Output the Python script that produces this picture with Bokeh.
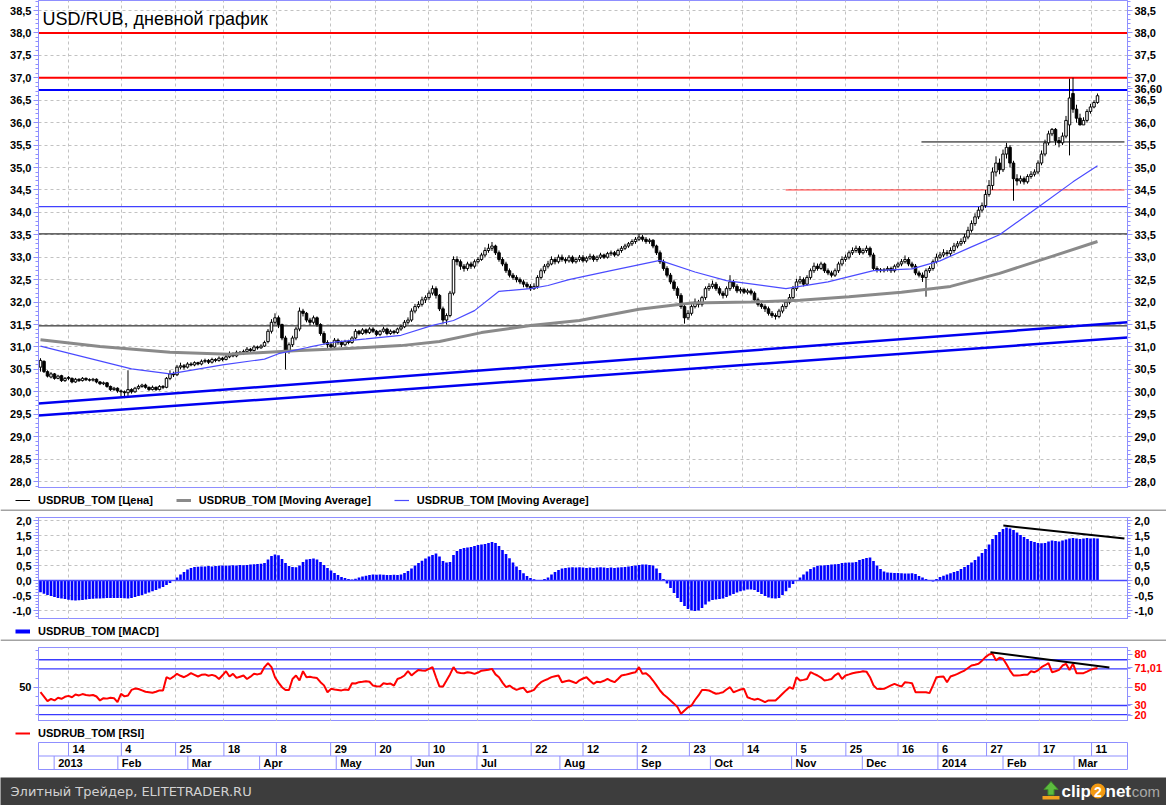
import numpy as np
from bokeh.plotting import figure
from bokeh.models import (Range1d, LinearAxis, FixedTicker, Grid, Span, Label,
                          Legend, LegendItem, ColumnDataSource, Spacer)
from bokeh.layouts import column
from bokeh.embed import file_html
from bokeh.resources import INLINE
from bokeh.core.properties import value

# ---------------- data ----------------
open_ = [
 30.55, 30.68, 30.45, 30.33, 30.40, 30.30, 30.36, 30.25, 30.32, 30.30,
 30.22, 30.28, 30.25, 30.30, 30.27, 30.26, 30.28, 30.22, 30.18, 30.20,
 30.12, 30.05, 30.08, 30.02, 30.00, 29.98, 30.05, 30.00, 30.08, 30.12,
 30.15, 30.10, 30.05, 30.10, 30.05, 30.12, 30.10, 30.30, 30.40, 30.38,
 30.55, 30.58, 30.55, 30.62, 30.60, 30.65, 30.62, 30.68, 30.70, 30.66,
 30.72, 30.70, 30.75, 30.72, 30.78, 30.85, 30.80, 30.88, 30.85, 30.90,
 30.95, 30.92, 31.00, 30.98, 31.02, 31.12, 31.35, 31.55, 31.65, 31.50,
 31.20, 30.90, 31.05, 31.20, 31.40, 31.80, 31.75, 31.60, 31.55, 31.65,
 31.50, 31.30, 31.10, 31.05, 31.00, 31.15, 31.10, 31.05, 31.12, 31.10,
 31.20, 31.35, 31.30, 31.38, 31.32, 31.40, 31.35, 31.28, 31.35, 31.40,
 31.30, 31.35, 31.32, 31.40, 31.45, 31.55, 31.60, 31.80, 31.90, 31.95,
 32.05, 32.10, 32.20, 32.30, 32.15, 31.85, 31.60, 31.70, 32.20, 32.95,
 32.90, 32.80, 32.75, 32.85, 32.80, 32.90, 32.95, 33.05, 33.15, 33.20,
 33.25, 33.10, 32.95, 32.85, 32.70, 32.60, 32.55, 32.50, 32.45, 32.40,
 32.35, 32.30, 32.35, 32.55, 32.70, 32.80, 32.85, 32.95, 32.90, 33.00,
 32.95, 32.92, 33.00, 32.90, 32.95, 33.00, 32.92, 32.98, 33.02, 32.95,
 33.00, 33.05, 33.00, 33.08, 33.10, 33.05, 33.15, 33.20, 33.25, 33.30,
 33.35, 33.40, 33.45, 33.40, 33.35, 33.38, 33.25, 33.10, 32.90, 32.75,
 32.60, 32.45, 32.30, 32.15, 31.90, 31.65, 31.75, 31.90, 32.00, 31.95,
 32.10, 32.30, 32.35, 32.40, 32.30, 32.20, 32.15, 32.30, 32.45, 32.35,
 32.25, 32.28, 32.22, 32.25, 32.20, 32.05, 31.95, 31.90, 31.85, 31.75,
 31.70, 31.68, 31.80, 31.90, 32.00, 32.10, 32.30, 32.45, 32.50, 32.40,
 32.55, 32.70, 32.80, 32.75, 32.85, 32.70, 32.65, 32.60, 32.70, 32.85,
 32.95, 33.00, 33.10, 33.15, 33.20, 33.10, 33.15, 33.20, 33.05, 32.75,
 32.72, 32.70, 32.72, 32.75, 32.70, 32.80, 32.85, 32.90, 32.95, 32.85,
 32.80, 32.65, 32.60, 32.55, 32.70, 32.75, 32.90, 33.00, 33.05, 33.10,
 33.08, 33.15, 33.25, 33.30, 33.35, 33.45, 33.60, 33.75, 33.90, 34.05,
 34.15, 34.40, 34.60, 34.90, 35.10, 34.95, 35.30, 35.45, 35.10, 34.75,
 34.70, 34.75, 34.68, 34.80, 34.85, 34.90, 35.10, 35.30, 35.55, 35.75,
 35.85, 35.60, 35.55, 35.70, 35.95, 36.65, 36.30, 36.10, 35.95, 36.05,
 36.25, 36.35, 36.45]
close = [
 30.70, 30.45, 30.35, 30.40, 30.30, 30.35, 30.25, 30.30, 30.30, 30.22,
 30.28, 30.25, 30.30, 30.27, 30.26, 30.28, 30.22, 30.18, 30.20, 30.12,
 30.05, 30.08, 30.02, 30.00, 29.98, 30.05, 30.00, 30.08, 30.12, 30.15,
 30.10, 30.05, 30.10, 30.05, 30.12, 30.10, 30.30, 30.40, 30.38, 30.55,
 30.58, 30.55, 30.62, 30.60, 30.65, 30.62, 30.68, 30.70, 30.66, 30.72,
 30.70, 30.75, 30.72, 30.78, 30.85, 30.80, 30.88, 30.85, 30.90, 30.95,
 30.92, 31.00, 30.98, 31.02, 31.10, 31.35, 31.55, 31.65, 31.50, 31.20,
 30.90, 31.05, 31.20, 31.40, 31.80, 31.75, 31.60, 31.55, 31.65, 31.50,
 31.30, 31.10, 31.05, 31.00, 31.15, 31.10, 31.05, 31.12, 31.10, 31.20,
 31.35, 31.30, 31.38, 31.32, 31.40, 31.35, 31.28, 31.35, 31.40, 31.30,
 31.35, 31.32, 31.40, 31.45, 31.55, 31.60, 31.80, 31.90, 31.95, 32.05,
 32.10, 32.20, 32.30, 32.15, 31.85, 31.60, 31.70, 32.20, 32.95, 32.90,
 32.80, 32.75, 32.85, 32.80, 32.90, 32.95, 33.05, 33.15, 33.20, 33.25,
 33.10, 32.95, 32.85, 32.70, 32.60, 32.55, 32.50, 32.45, 32.40, 32.35,
 32.30, 32.35, 32.55, 32.70, 32.80, 32.85, 32.95, 32.90, 33.00, 32.95,
 32.92, 33.00, 32.90, 32.95, 33.00, 32.92, 32.98, 33.02, 32.95, 33.00,
 33.05, 33.00, 33.08, 33.10, 33.05, 33.15, 33.20, 33.25, 33.30, 33.35,
 33.40, 33.45, 33.40, 33.35, 33.38, 33.25, 33.10, 32.90, 32.75, 32.60,
 32.45, 32.30, 32.15, 31.90, 31.65, 31.75, 31.90, 32.00, 31.95, 32.10,
 32.30, 32.35, 32.40, 32.30, 32.20, 32.15, 32.30, 32.45, 32.35, 32.25,
 32.28, 32.22, 32.25, 32.20, 32.05, 31.95, 31.90, 31.85, 31.75, 31.70,
 31.68, 31.80, 31.90, 32.00, 32.10, 32.30, 32.45, 32.50, 32.40, 32.55,
 32.70, 32.80, 32.75, 32.85, 32.70, 32.65, 32.60, 32.70, 32.85, 32.95,
 33.00, 33.10, 33.15, 33.20, 33.10, 33.15, 33.20, 33.05, 32.75, 32.72,
 32.70, 32.72, 32.75, 32.70, 32.80, 32.85, 32.90, 32.95, 32.85, 32.80,
 32.65, 32.60, 32.55, 32.70, 32.75, 32.90, 33.00, 33.05, 33.10, 33.08,
 33.15, 33.25, 33.30, 33.35, 33.45, 33.60, 33.75, 33.90, 34.05, 34.15,
 34.40, 34.60, 34.90, 35.10, 34.95, 35.30, 35.45, 35.10, 34.75, 34.70,
 34.75, 34.68, 34.80, 34.85, 34.90, 35.10, 35.30, 35.55, 35.75, 35.85,
 35.60, 35.55, 35.70, 36.05, 36.55, 36.30, 36.10, 35.95, 36.05, 36.25,
 36.35, 36.45, 36.60]
high = [
 30.75, 30.70, 30.48, 30.44, 30.42, 30.38, 30.38, 30.33, 30.35, 30.32,
 30.31, 30.30, 30.33, 30.32, 30.30, 30.31, 30.30, 30.24, 30.23, 30.22,
 30.14, 30.11, 30.10, 30.05, 30.03, 30.48, 30.08, 30.11, 30.16, 30.18,
 30.18, 30.12, 30.14, 30.12, 30.15, 30.15, 30.33, 30.48, 30.45, 30.60,
 30.65, 30.62, 30.66, 30.66, 30.68, 30.67, 30.72, 30.74, 30.73, 30.76,
 30.75, 30.79, 30.78, 30.82, 30.90, 30.88, 30.92, 30.91, 30.94, 31.00,
 30.98, 31.04, 31.03, 31.06, 31.14, 31.40, 31.62, 31.75, 31.70, 31.52,
 31.25, 31.10, 31.25, 31.45, 31.88, 31.85, 31.78, 31.65, 31.70, 31.68,
 31.53, 31.35, 31.15, 31.10, 31.20, 31.19, 31.14, 31.16, 31.16, 31.24,
 31.40, 31.38, 31.42, 31.41, 31.44, 31.44, 31.38, 31.38, 31.45, 31.43,
 31.39, 31.38, 31.43, 31.50, 31.60, 31.66, 31.86, 31.96, 32.02, 32.12,
 32.15, 32.26, 32.37, 32.35, 32.18, 31.90, 31.75, 32.25, 33.02, 33.02,
 32.95, 32.85, 32.90, 32.90, 32.95, 33.00, 33.10, 33.22, 33.30, 33.34,
 33.28, 33.15, 33.00, 32.90, 32.75, 32.65, 32.60, 32.55, 32.50, 32.45,
 32.40, 32.42, 32.60, 32.75, 32.85, 32.92, 33.02, 33.00, 33.06, 33.06,
 33.00, 33.05, 33.04, 33.00, 33.05, 33.05, 33.02, 33.08, 33.06, 33.04,
 33.10, 33.08, 33.12, 33.15, 33.14, 33.19, 33.25, 33.30, 33.34, 33.40,
 33.45, 33.52, 33.50, 33.45, 33.42, 33.40, 33.28, 33.15, 32.95, 32.80,
 32.65, 32.50, 32.35, 32.20, 31.95, 31.82, 31.95, 32.08, 32.05, 32.14,
 32.35, 32.42, 32.48, 32.45, 32.35, 32.25, 32.35, 32.60, 32.50, 32.40,
 32.33, 32.32, 32.30, 32.30, 32.24, 32.10, 32.00, 31.95, 31.90, 31.80,
 31.75, 31.85, 31.95, 32.05, 32.18, 32.36, 32.52, 32.58, 32.55, 32.60,
 32.75, 32.88, 32.86, 32.90, 32.88, 32.75, 32.70, 32.75, 32.90, 33.02,
 33.06, 33.15, 33.22, 33.26, 33.25, 33.20, 33.26, 33.24, 33.10, 32.80,
 32.76, 32.76, 32.80, 32.79, 32.84, 32.90, 32.96, 33.04, 33.00, 32.90,
 32.85, 32.70, 32.66, 32.75, 32.80, 32.95, 33.08, 33.12, 33.18, 33.16,
 33.22, 33.32, 33.36, 33.42, 33.52, 33.68, 33.82, 33.98, 34.12, 34.22,
 34.50, 34.72, 35.00, 35.25, 35.20, 35.40, 35.55, 35.50, 35.15, 34.85,
 34.82, 34.80, 34.85, 34.92, 34.96, 35.16, 35.38, 35.62, 35.82, 35.88,
 35.88, 35.68, 35.78, 36.15, 36.98, 37.00, 36.40, 36.20, 36.12, 36.30,
 36.42, 36.50, 36.65]
low = [
 30.45, 30.42, 30.32, 30.30, 30.27, 30.28, 30.22, 30.22, 30.26, 30.19,
 30.20, 30.22, 30.23, 30.24, 30.23, 30.23, 30.19, 30.15, 30.15, 30.09,
 30.02, 30.02, 29.98, 29.90, 29.86, 29.88, 29.96, 29.98, 30.05, 30.09,
 30.07, 30.02, 30.03, 30.02, 30.03, 30.06, 30.08, 30.26, 30.33, 30.35,
 30.50, 30.50, 30.52, 30.57, 30.57, 30.59, 30.59, 30.64, 30.62, 30.63,
 30.66, 30.67, 30.68, 30.70, 30.75, 30.77, 30.77, 30.82, 30.82, 30.87,
 30.88, 30.90, 30.94, 30.96, 31.00, 31.08, 31.30, 31.50, 31.42, 31.15,
 30.50, 30.85, 31.00, 31.15, 31.35, 31.68, 31.55, 31.48, 31.50, 31.45,
 31.25, 31.05, 30.98, 30.95, 30.97, 31.05, 31.00, 31.02, 31.06, 31.07,
 31.17, 31.26, 31.27, 31.28, 31.29, 31.31, 31.24, 31.24, 31.32, 31.26,
 31.27, 31.28, 31.29, 31.36, 31.42, 31.50, 31.56, 31.75, 31.86, 31.90,
 31.98, 32.05, 32.15, 32.08, 31.80, 31.52, 31.50, 31.66, 32.15, 32.82,
 32.72, 32.68, 32.70, 32.74, 32.75, 32.86, 32.92, 33.00, 33.10, 33.14,
 33.05, 32.90, 32.80, 32.65, 32.55, 32.50, 32.44, 32.40, 32.33, 32.30,
 32.25, 32.27, 32.30, 32.50, 32.64, 32.75, 32.82, 32.84, 32.86, 32.90,
 32.86, 32.88, 32.86, 32.86, 32.90, 32.88, 32.88, 32.94, 32.90, 32.90,
 32.96, 32.96, 32.97, 33.03, 33.01, 33.02, 33.10, 33.16, 33.21, 33.25,
 33.30, 33.36, 33.35, 33.30, 33.30, 33.20, 33.05, 32.85, 32.70, 32.55,
 32.40, 32.25, 32.08, 31.85, 31.52, 31.60, 31.70, 31.86, 31.88, 31.90,
 32.05, 32.25, 32.30, 32.25, 32.15, 32.08, 32.10, 32.25, 32.30, 32.20,
 32.19, 32.18, 32.17, 32.15, 32.00, 31.90, 31.85, 31.78, 31.70, 31.65,
 31.61, 31.64, 31.75, 31.85, 31.95, 32.05, 32.25, 32.40, 32.35, 32.36,
 32.50, 32.65, 32.70, 32.72, 32.65, 32.60, 32.55, 32.56, 32.65, 32.80,
 32.90, 32.95, 33.05, 33.10, 33.05, 33.06, 33.10, 33.00, 32.70, 32.66,
 32.66, 32.66, 32.68, 32.65, 32.66, 32.76, 32.80, 32.86, 32.80, 32.75,
 32.60, 32.55, 32.45, 32.12, 32.65, 32.70, 32.86, 32.96, 33.00, 33.02,
 33.02, 33.10, 33.20, 33.25, 33.30, 33.40, 33.55, 33.70, 33.85, 34.00,
 34.10, 34.35, 34.50, 34.80, 34.85, 34.90, 35.20, 35.00, 34.26, 34.60,
 34.64, 34.62, 34.64, 34.75, 34.80, 34.85, 35.05, 35.25, 35.50, 35.70,
 35.50, 35.45, 35.50, 35.65, 35.27, 36.22, 36.00, 35.94, 35.95, 36.00,
 36.20, 36.32, 36.42]

macd = [
 -0.39, -0.44, -0.48, -0.52, -0.55, -0.58, -0.60, -0.62, -0.64, -0.66,
 -0.67, -0.66, -0.65, -0.63, -0.62, -0.61, -0.60, -0.60, -0.59, -0.58,
 -0.58, -0.58, -0.58, -0.58, -0.59, -0.60, -0.58, -0.55, -0.52, -0.48,
 -0.44, -0.40, -0.36, -0.32, -0.27, -0.22, -0.15, -0.08, -0.02, 0.10,
 0.20, 0.28, 0.37, 0.42, 0.45, 0.46, 0.47, 0.47, 0.48, 0.47,
 0.48, 0.49, 0.50, 0.49, 0.50, 0.51, 0.50, 0.52, 0.51, 0.52,
 0.53, 0.54, 0.55, 0.56, 0.58, 0.70, 0.82, 0.87, 0.84, 0.72,
 0.58, 0.48, 0.45, 0.44, 0.50, 0.62, 0.70, 0.72, 0.73, 0.70,
 0.62, 0.52, 0.42, 0.33, 0.25, 0.18, 0.12, 0.08, 0.05, 0.03,
 0.06, 0.10, 0.13, 0.16, 0.18, 0.20, 0.19, 0.20, 0.19, 0.18,
 0.18, 0.19, 0.18, 0.20, 0.25, 0.32, 0.40, 0.50, 0.58, 0.66,
 0.73, 0.80, 0.85, 0.90, 0.80, 0.65, 0.60, 0.62, 0.85, 0.98,
 1.05, 1.08, 1.10, 1.12, 1.15, 1.18, 1.20, 1.22, 1.25, 1.28,
 1.25, 1.15, 1.02, 0.88, 0.74, 0.60, 0.47, 0.35, 0.24, 0.15,
 0.08, 0.04, 0.02, 0.02, 0.05, 0.10, 0.20, 0.28, 0.35, 0.40,
 0.42, 0.43, 0.44, 0.43, 0.44, 0.43, 0.42, 0.43, 0.42, 0.43,
 0.44, 0.43, 0.42, 0.43, 0.42, 0.43, 0.44, 0.45, 0.47, 0.48,
 0.50, 0.52, 0.53, 0.53, 0.52, 0.50, 0.40, 0.25, 0.05, -0.10,
 -0.25, -0.42, -0.58, -0.72, -0.85, -0.95, -1.00, -1.02, -1.00, -0.92,
 -0.80, -0.70, -0.65, -0.63, -0.62, -0.60, -0.55, -0.50, -0.45, -0.40,
 -0.36, -0.33, -0.30, -0.30, -0.32, -0.38, -0.45, -0.52, -0.57, -0.59,
 -0.60, -0.58, -0.48, -0.36, -0.24, -0.12, -0.02, 0.10, 0.20, 0.30,
 0.38, 0.44, 0.49, 0.50, 0.51, 0.52, 0.53, 0.54, 0.55, 0.58,
 0.59, 0.60, 0.60, 0.62, 0.68, 0.72, 0.75, 0.77, 0.65, 0.50,
 0.38, 0.30, 0.27, 0.26, 0.25, 0.25, 0.24, 0.23, 0.23, 0.24,
 0.22, 0.15, 0.10, 0.05, 0.02, -0.03, 0.05, 0.12, 0.16, 0.20,
 0.24, 0.28, 0.32, 0.38, 0.45, 0.52, 0.60, 0.68, 0.80, 0.92,
 1.05, 1.20, 1.38, 1.52, 1.62, 1.72, 1.77, 1.73, 1.68, 1.60,
 1.52, 1.45, 1.38, 1.32, 1.28, 1.25, 1.24, 1.25, 1.30, 1.33,
 1.32, 1.30, 1.33, 1.37, 1.40, 1.42, 1.40, 1.38, 1.40, 1.42,
 1.40, 1.41, 1.40]

rsi = [
 44.5, 39.8, 34.7, 37.3, 35.5, 38.4, 37.3, 39.5, 40.5, 39.0,
 42.0, 41.0, 42.5, 41.5, 41.0, 41.5, 39.8, 35.5, 38.0, 37.5,
 38.5, 38.0, 33.6, 42.8, 40.0, 41.0, 47.0, 48.5, 48.0, 46.5,
 45.0, 44.5, 44.0, 45.0, 46.5, 46.4, 60.9, 59.0, 61.5, 64.6,
 62.5, 60.9, 63.0, 65.3, 63.5, 61.7, 63.5, 64.0, 62.5, 63.5,
 62.3, 59.0, 63.0, 67.5, 61.7, 64.6, 60.2, 61.5, 62.8, 59.0,
 61.5, 64.6, 64.0, 65.0, 72.0, 76.3, 72.0, 60.9, 55.0, 50.0,
 47.0, 47.0, 59.0, 62.8, 57.3, 67.5, 60.9, 61.5, 60.5, 60.0,
 55.5, 52.0, 44.5, 48.2, 47.5, 47.0, 46.5, 47.5, 47.0, 54.4,
 54.0, 55.5, 56.0, 56.6, 56.0, 51.8, 51.0, 50.7, 54.4, 53.5,
 54.0, 51.8, 59.0, 60.5, 62.8, 67.5, 62.8, 66.0, 68.9, 68.2,
 68.0, 70.0, 71.9, 60.9, 50.7, 50.7, 57.3, 64.0, 71.9, 66.4,
 65.5, 65.3, 66.4, 65.8, 64.6, 66.0, 68.0, 68.5, 69.0, 70.0,
 64.0, 60.9, 55.0, 50.0, 51.8, 49.0, 47.0, 48.5, 49.3, 44.5,
 45.5, 47.0, 52.0, 55.5, 57.5, 59.0, 61.0, 62.0, 62.8, 55.5,
 56.5, 57.3, 56.0, 54.4, 57.5, 59.5, 60.9, 57.0, 53.7, 56.0,
 55.5, 57.0, 59.0, 57.0, 55.5, 59.0, 62.8, 63.5, 64.5, 65.5,
 66.4, 71.9, 64.6, 65.3, 62.0, 57.3, 52.0, 46.4, 42.0, 39.0,
 35.5, 32.0, 28.2, 20.9, 24.5, 28.0, 30.0, 36.0, 41.0, 47.0,
 47.0, 46.4, 44.5, 42.8, 43.5, 44.5, 47.5, 50.0, 44.5, 46.0,
 47.5, 48.2, 39.0, 37.5, 36.2, 37.3, 35.5, 33.6, 35.5, 35.5,
 35.5, 39.0, 42.8, 46.5, 50.0, 48.2, 60.9, 57.3, 58.0, 59.0,
 66.4, 64.5, 62.8, 60.5, 57.3, 58.0, 59.0, 63.0, 65.3, 59.0,
 62.8, 64.0, 65.3, 66.0, 66.5, 67.5, 67.0, 60.9, 52.0, 48.2,
 48.0, 48.2, 50.0, 52.0, 53.7, 52.0, 50.7, 55.5, 55.0, 54.4,
 44.5, 44.5, 44.5, 44.5, 43.5, 52.0, 60.9, 61.5, 61.7, 55.5,
 61.7, 63.0, 64.6, 66.5, 68.2, 71.0, 73.7, 74.5, 75.6, 79.0,
 82.9, 85.8, 86.6, 79.3, 82.2, 81.1, 75.0, 68.2, 62.8, 62.8,
 63.0, 63.5, 63.5, 67.5, 66.4, 68.5, 71.9, 74.0, 76.3, 66.4,
 67.5, 68.9, 73.7, 75.6, 68.9, 75.6, 65.3, 65.3, 65.3, 67.0,
 68.9, 70.1, 71.01]

# moving averages, read at sample bars
ma_slow_x = [0, 17, 37, 54, 74, 89, 103, 114, 126, 140, 154, 171, 186, 203, 217, 231, 246, 260, 274, 289, 302]
ma_slow = [31.16, 31.01, 30.88, 30.84, 30.92, 30.97, 31.03, 31.12, 31.32, 31.48, 31.59, 31.84, 31.98,
           32.00, 32.04, 32.12, 32.22, 32.35, 32.64, 33.02, 33.35]
ma_fast_x = [0, 26, 37, 52, 64, 68, 77, 84, 93, 103, 112, 118, 124, 131, 140, 145, 151, 163, 177,
             187, 196, 213, 225, 238, 249, 257, 266, 274, 286, 295, 302]
ma_fast = [31.02, 30.51, 30.40, 30.60, 30.73, 30.85, 31.00, 31.11, 31.18, 31.26, 31.48, 31.59, 31.81,
           32.24, 32.30, 32.37, 32.50, 32.70, 32.93, 32.67, 32.48, 32.30, 32.45, 32.70, 32.74, 32.92,
           33.23, 33.50, 34.17, 34.68, 35.04]

# drawn studies (trend lines and levels)
trend_x = [-0.57, 310.57]
trend_upper = [29.74, 31.55]
trend_lower = [29.47, 31.21]
red_levels = [38.0, 37.0]
blue_level = 36.73
thin_blue_level = 34.13
black_levels = [33.52, 31.47]
resist_x = [251.7, 309.7]
resist_level = 35.57
red_short_x = [212.9, 309.7]
red_short_level = 34.5
last_price = [36.76]
last_price_text = ["36,60"]
macd_trend_x = [275.1, 309.7]
macd_trend = [1.83, 1.40]
rsi_trend_x = [271.4, 305.4]
rsi_trend = [88.3, 71.5]
rsi_levels = [80, 70, 30, 20]
rsi_box_values = [19.6, 30.6, 71.01, 86.0]
rsi_box_texts = ["20", "30", "71,01", "80"]

price_ticks = [28.0, 28.5, 29.0, 29.5, 30.0, 30.5, 31.0, 31.5, 32.0, 32.5, 33.0,
               33.5, 34.0, 34.5, 35.0, 35.5, 36.0, 36.5, 37.0, 37.5, 38.0, 38.5]
price_labels = ["28,0", "28,5", "29,0", "29,5", "30,0", "30,5", "31,0", "31,5", "32,0", "32,5", "33,0",
                "33,5", "34,0", "34,5", "35,0", "35,5", "36,0", "36,5", "37,0", "37,5", "38,0", "38,5"]
macd_ticks = [-1.0, -0.5, 0.0, 0.5, 1.0, 1.5, 2.0]
macd_labels = ["-1,0", "-0,5", "0,0", "0,5", "1,0", "1,5", "2,0"]
rsi_ticks = [50]
rsi_labels = ["50"]
rsi_minor = [20, 30, 40, 60, 70, 80, 90]

day_ticks = [8.0, 23.1, 38.6, 52.4, 67.4, 82.9, 95.7, 111.0, 125.0, 140.2, 155.0,
             170.5, 185.4, 200.7, 216.0, 230.1, 245.0, 256.4, 270.3, 285.3, 300.3]
day_labels = ["14", "4", "25", "18", "8", "29", "20", "10", "1", "22", "12",
              "2", "23", "14", "5", "25", "16", "6", "27", "17", "11"]
month_ticks = [3.9, 22.1, 42.1, 62.6, 84.5, 105.9, 124.7, 148.4, 170.5, 191.4, 214.6,
               234.8, 256.4, 275.0, 295.3]
month_labels = ["2013", "Feb", "Mar", "Apr", "May", "Jun", "Jul", "Aug", "Sep", "Oct", "Nov",
                "Dec", "2014", "Feb", "Mar"]

N = len(close)
assert all(len(a) == N for a in (open_, high, low, macd, rsi)), \
    (len(open_), len(high), len(low), len(close), len(macd), len(rsi))
idx = list(range(N))

# ---------------- styling helpers ----------------
LB = "#8f8fff"
GRID = "#c2c2c2"
FONT = "Liberation Sans"
W = 1166
XR = Range1d(-0.57, 310.57)


def px(x):
    """page pixel column -> bar coordinate (for placing annotations)"""
    return (x - 40.0) / 3.5


def panel(h, yr, top=0, bottom=0):
    return figure(width=W, height=h, x_range=XR, y_range=yr, x_axis_type=None, y_axis_type=None,
                  output_backend="svg", toolbar_location=None,
                  min_border_left=38, min_border_right=39, min_border_top=top, min_border_bottom=bottom,
                  background_fill_color="white", border_fill_color="white", outline_line_color=LB)


def yaxis(p, ticks, labels, minor, side, color="black"):
    order = sorted(range(len(ticks)), key=lambda i: ticks[i])
    ticks = [ticks[i] for i in order]
    labels = [labels[i] for i in order]
    ax = LinearAxis(ticker=FixedTicker(ticks=ticks, minor_ticks=minor),
                    major_label_overrides={t: l for t, l in zip(ticks, labels)},
                    axis_line_color=LB, major_tick_line_color=LB, minor_tick_line_color=LB,
                    major_tick_in=0, major_tick_out=5, minor_tick_in=0, minor_tick_out=3,
                    major_label_standoff=2, major_label_text_font=FONT,
                    major_label_text_font_style="bold", major_label_text_font_size="11px",
                    major_label_text_color=color)
    p.add_layout(ax, side)


def grids(p, yticks):
    p.add_layout(Grid(dimension=0, ticker=FixedTicker(ticks=day_ticks),
                      grid_line_color=GRID, grid_line_dash="3 3"))
    p.add_layout(Grid(dimension=1, ticker=FixedTicker(ticks=yticks),
                      grid_line_color=GRID, grid_line_dash="3 3"))


def hline(p, y, color, width, level="underlay"):
    p.add_layout(Span(location=y, dimension="width", line_color=color, line_width=width, level=level))


def free_fig(h, bg="white"):
    return figure(width=W, height=h, x_range=Range1d(0, W), y_range=Range1d(0, h),
                  x_axis_type=None, y_axis_type=None, output_backend="svg", toolbar_location=None,
                  min_border=0, outline_line_color=None, frame_align=False,
                  background_fill_color=bg, border_fill_color=bg)


def legend_fig(h, items_spec, loc_y, sep=True):
    p = free_fig(h)
    items = []
    for label, color, width in items_spec:
        r = p.line(x=[-500, -400], y=[-500, -500], line_color=color, line_width=width)
        items.append(LegendItem(label=value(label), renderers=[r]))
    lg = Legend(items=items, location=(15, loc_y), orientation="horizontal",
                glyph_width=15, glyph_height=14, label_height=14, label_standoff=8, spacing=23,
                padding=0, margin=0, border_line_alpha=0, background_fill_alpha=0,
                label_text_font=FONT, label_text_font_style="bold", label_text_font_size="11px",
                label_text_color="black")
    p.add_layout(lg, "center")
    if sep:
        p.add_layout(Span(location=1, dimension="width", line_color="#a3a3a3", line_width=2))
    return p


# ---------------- main price panel ----------------
main = panel(488, Range1d(27.845, 38.723))
grids(main, price_ticks)
pminor = np.round(np.arange(27.9, 38.75, 0.1), 2).tolist()
yaxis(main, price_ticks, price_labels, pminor, "left")
yaxis(main, price_ticks + last_price, price_labels + last_price_text, pminor, "right")

for lv in red_levels:
    hline(main, lv, "#ff0000", 2)
hline(main, blue_level, "#0000ff", 2)
hline(main, thin_blue_level, "#4040ff", 1.3)
for lv in black_levels:
    hline(main, lv, "#000000", 1)
main.segment(x0=resist_x[0], x1=resist_x[1], y0=resist_level, y1=resist_level,
             line_color="black", line_width=1)
main.segment(x0=red_short_x[0], x1=red_short_x[1], y0=red_short_level, y1=red_short_level,
             line_color="#ff2a2a", line_width=1)

o_arr = np.array(open_)
c_arr = np.array(close)
src = ColumnDataSource(dict(
    x=idx, h=high, l=low,
    top=np.maximum(o_arr, c_arr), bottom=np.minimum(o_arr, c_arr),
    fill=["white" if c >= o else "black" for o, c in zip(open_, close)]))
main.segment(x0="x", y0="l", x1="x", y1="h", source=src, line_color="black", line_width=1)
main.vbar(x="x", width=0.72, top="top", bottom="bottom", source=src,
          fill_color="fill", line_color="black", line_width=1)

main.line(ma_slow_x, ma_slow, line_color="#8a8a8a", line_width=3)
main.line(ma_fast_x, ma_fast, line_color="#4b4bff", line_width=1.2)
main.line(trend_x, trend_upper, line_color="#0000f0", line_width=2.5)
main.line(trend_x, trend_lower, line_color="#0000f0", line_width=2.5)

main.add_layout(Label(x=px(42), y=38.30, text="USD/RUB, дневной график", text_font=FONT,
                      text_font_size="18px", text_baseline="middle", text_color="black"))

leg1 = legend_fig(23, [("USDRUB_TOM [Цена]", "black", 1),
                       ("USDRUB_TOM [Moving Average]", "#8a8a8a", 3),
                       ("USDRUB_TOM [Moving Average]", "#4b4bff", 1.2)], 4)

# ---------------- MACD panel ----------------
mp = panel(108, Range1d(-1.3, 2.1), top=6)
grids(mp, macd_ticks)
mminor = np.round(np.arange(-1.3, 2.11, 0.1), 2).tolist()
yaxis(mp, macd_ticks, macd_labels, mminor, "left")
yaxis(mp, macd_ticks, macd_labels, mminor, "right")
mp.vbar(x=idx, top=macd, bottom=0, width=0.75, fill_color="#0000ff", line_color=None)
hline(mp, 0, "#4a4aff", 1.5, level="annotation")
mp.line(macd_trend_x, macd_trend, line_color="black", line_width=2)

leg2 = legend_fig(22, [("USDRUB_TOM [MACD]", "#0000ff", 4)], 3)

# ---------------- RSI panel ----------------
rp = panel(80, Range1d(12.5, 93.4), top=6)
grids(rp, rsi_ticks)
yaxis(rp, rsi_ticks, rsi_labels, rsi_minor, "left")
yaxis(rp, rsi_ticks + rsi_box_values, rsi_labels + rsi_box_texts, rsi_minor, "right", "#ff0000")
for lv in rsi_levels:
    hline(rp, lv, "#3a3aff", 1.3)
rp.line(idx, rsi, line_color="#ff0000", line_width=2)
rp.line(rsi_trend_x, rsi_trend, line_color="black", line_width=2)

leg3 = legend_fig(20, [("USDRUB_TOM [RSI]", "#ff0000", 2)], 1, sep=False)

# ---------------- date axis ----------------
dp = panel(29, Range1d(0, 2), top=1, bottom=1)
dp.add_layout(Span(location=1, dimension="width", line_color=LB, line_width=1))
dp.segment(x0=day_ticks, x1=day_ticks, y0=1, y1=2, line_color=LB, line_width=1)
dp.segment(x0=month_ticks, x1=month_ticks, y0=0, y1=1, line_color=LB, line_width=1)
dp.text(x=day_ticks, y=1.5, text=day_labels, x_offset=4, text_font=value(FONT),
        text_font_style="bold", text_font_size="11px", text_baseline="middle",
        text_align="left", text_color="black")
dp.text(x=month_ticks, y=0.5, text=month_labels, x_offset=4, text_font=value(FONT),
        text_font_style="bold", text_font_size="11px", text_baseline="middle",
        text_align="left", text_color="black")

# ---------------- footer ----------------
DARK = "#3d3d3d"
ft = free_fig(28, DARK)
ft.add_layout(Label(x=10, y=14, text="Элитный Трейдер, ELITETRADER.RU", text_font="DejaVu Sans",
                    text_font_size="13px", text_color="#d2d2d2", text_baseline="middle"))
ft.quad(left=1042, right=1059, bottom=6, top=9.5, fill_color="#f2a11f", line_color=None)
ft.patch(x=[1043.5, 1050.5, 1057.5, 1053.5, 1053.5, 1047.5, 1047.5],
         y=[16, 24, 16, 16, 10.5, 10.5, 16], fill_color="#5dbb3f", line_color="#3f8f2a")
ft.add_layout(Label(x=1061, y=14, text="clip", text_font=FONT, text_font_style="bold",
                    text_font_size="17px", text_color="white", text_baseline="middle"))
ft.circle(x=1097.5, y=14.5, radius=7.5, fill_color="#f39a12", line_color=None)
ft.add_layout(Label(x=1097.5, y=14, text="2", text_font=FONT, text_font_style="bold",
                    text_font_size="14px", text_color="white", text_baseline="middle",
                    text_align="center"))
ft.add_layout(Label(x=1105, y=14, text="net", text_font=FONT, text_font_style="bold",
                    text_font_size="17px", text_color="white", text_baseline="middle"))
ft.add_layout(Label(x=1127, y=14, text=".com", text_font=FONT,
                    text_font_size="15px", text_color="#a8a8a8", text_baseline="middle"))

root = column(main, leg1, mp, leg2, rp, leg3, dp, Spacer(width=W, height=7), ft, spacing=0)

open("out.html", "w").write(file_html(root, INLINE))
